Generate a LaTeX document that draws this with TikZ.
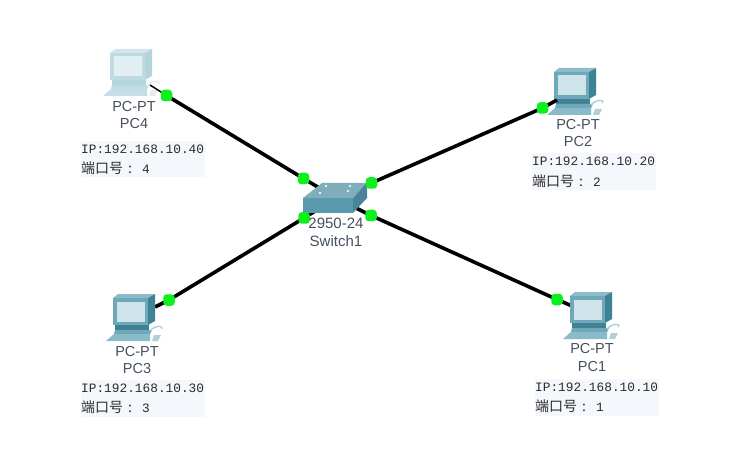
\documentclass[tikz,border=0pt]{standalone}
\usepackage{fontspec}
\setmainfont{Liberation Sans}
\newfontfamily\cjkfont{Noto Sans CJK SC}
\newfontfamily\ipfont{Liberation Mono}
\definecolor{labelc}{HTML}{46505E}
\definecolor{portgreen}{HTML}{0CF01E}
\definecolor{stripc}{HTML}{F4F7FB}
\definecolor{txtc}{HTML}{2C2C2C}
% teal PC
\definecolor{tfront}{HTML}{6FA8B9}
\definecolor{tside}{HTML}{3F8296}
\definecolor{tscreen}{HTML}{CFE3EA}
\definecolor{tbase}{HTML}{8ABBCA}
\definecolor{tlight}{HTML}{8CBCC9}
% pale PC
\definecolor{pfront}{HTML}{BEDBE3}
\definecolor{pside}{HTML}{B4D4DC}
\definecolor{pscreen}{HTML}{E1EEF2}
\definecolor{pbase}{HTML}{C4DEE5}
\definecolor{plight}{HTML}{D3E6EC}
% switch
\definecolor{swtop}{HTML}{7FAEBD}
\definecolor{swfront}{HTML}{5A9AAE}
\definecolor{swside}{HTML}{4A8499}
\pgfdeclarelayer{front}
\pgfsetlayers{main,front}
\tikzset{
  lbl/.style={font=\fontsize{14.5}{16}\selectfont,text=labelc,inner sep=0pt},
  swlbl/.style={font=\fontsize{15}{17}\selectfont,text=labelc,inner sep=0pt},
  info/.style={anchor=west,inner sep=0pt,text=txtc,font=\fontsize{12.8}{14}\ipfont},
  cjkinfo/.style={anchor=west,inner sep=0pt,text=txtc,font=\fontsize{14}{15}\cjkfont},
  stripbox/.style={fill=stripc,draw=none},
  portdot/.style={rectangle,rounded corners=3.5pt,fill=portgreen,draw=none,minimum size=11.5pt,inner sep=0pt},
  linkline/.style={line width=3.6pt,black},
  pics/pcicon/.style={code={
    \fill[#1light] (0,0) -- (5,-4) -- (42,-4) -- (35,0) -- cycle;
    \fill[#1side] (35,0) -- (42,-4) -- (42,23) -- (35,27) -- cycle;
    \fill[#1front] (0,0) rectangle (35,27);
    \fill[#1screen] (3.5,3.5) rectangle (31.5,23.5);
    \fill[#1side] (2,27) rectangle (36,32);
    \fill[#1front] (2,32) -- (39,32) -- (37,36) -- (1,36) -- cycle;
    \fill[#1base] (1,36) -- (37,36) -- (37,43) -- (-7,43) -- cycle;
    \draw[#1light!70!white,line width=1.4pt] (37,33) .. controls (42,27) and (50,27) .. (49,31);
    \fill[#1light!70!white] (41,37) -- (48,37) -- (45,43) -- (39,43) -- cycle;
  }}
}
\newcommand{\portline}[1]{端口号\hspace{5pt}:{\ipfont\fontsize{12.8}{14}\selectfont\hspace{10pt}#1}}
\begin{document}
\begin{tikzpicture}[x=1pt,y=-1pt]
\useasboundingbox (0,0) rectangle (747,465);
\fill[white] (0,0) rectangle (747,465);

\fill[stripbox] (81,141) rectangle (205,177);
\fill[stripbox] (532,153) rectangle (656,190);
\fill[stripbox] (81,380) rectangle (205,417);
\fill[stripbox] (535,379) rectangle (659,416);

\coordinate (sw) at (336,198);
\coordinate (pc4) at (150,85);
\coordinate (pc2) at (557,100);
\coordinate (pc3) at (155,307);
\coordinate (pc1) at (572,306);

\begin{pgfonlayer}{front}
\node[portdot] (p4a) at (166.5,95.5) {};
\node[portdot] (p4b) at (303.5,178.5) {};
\node[portdot] (p2a) at (542.5,108) {};
\node[portdot] (p2b) at (371.5,183) {};
\node[portdot] (p3a) at (169,300) {};
\node[portdot] (p3b) at (304,218) {};
\node[portdot] (p1a) at (557,299.5) {};
\node[portdot] (p1b) at (371,215.5) {};

\node[lbl] (l4a) at (134,107) {PC-PT};
\node[lbl] (l4b) at (134,124) {PC4};
\node[lbl] (l2a) at (578,125) {PC-PT};
\node[lbl] (l2b) at (578,142) {PC2};
\node[lbl] (l3a) at (137,352) {PC-PT};
\node[lbl] (l3b) at (137,369) {PC3};
\node[lbl] (l1a) at (592,349) {PC-PT};
\node[lbl] (l1b) at (592,367) {PC1};
\node[swlbl] (ls1) at (336,223) {2950-24};
\node[swlbl] (ls2) at (336,241) {Switch1};

\node[info] (i4) at (81,149) {IP:192.168.10.40};
\node[cjkinfo] (c4) at (81,168.5) {\portline{4}};
\node[info] (i2) at (532,161.5) {IP:192.168.10.20};
\node[cjkinfo] (c2) at (532,181) {\portline{2}};
\node[info] (i3) at (81,388.5) {IP:192.168.10.30};
\node[cjkinfo] (c3) at (81,407.5) {\portline{3}};
\node[info] (i1) at (535,387.5) {IP:192.168.10.10};
\node[cjkinfo] (c1) at (535,406.5) {\portline{1}};
\end{pgfonlayer}

\draw[linkline] (pc3) -- (p3a.center) -- (p3b.center) -- (sw);
\draw[linkline] (pc1) -- (p1a.center) -- (p1b.center) -- (sw);
\draw[linkline] (p4a.center) -- (p4b.center) -- (sw);

\pic at (110,53) {pcicon=p};
\pic at (113,298) {pcicon=t};
\pic at (570,296) {pcicon=t};
\pic at (554,72) {pcicon=t};

\draw[linkline] (pc2) -- (p2a.center) -- (p2b.center) -- (sw);
\draw[line width=1.5pt,black] (pc4) -- (p4a.center);

\fill[swtop] (303,198) -- (322,183) -- (367,183) -- (353,198) -- cycle;
\fill[swfront] (303,198) rectangle (353,213);
\fill[swside] (353,198) -- (367,183) -- (367,198) -- (353,213) -- cycle;
\fill[white!85!swtop] (326,186) circle (1.3);
\fill[white!85!swtop] (350,186) circle (1.3);
\fill[white!85!swtop] (348,191) circle (1.3);
\fill[white!85!swtop] (320,193) circle (1.3);
\end{tikzpicture}
\end{document}
